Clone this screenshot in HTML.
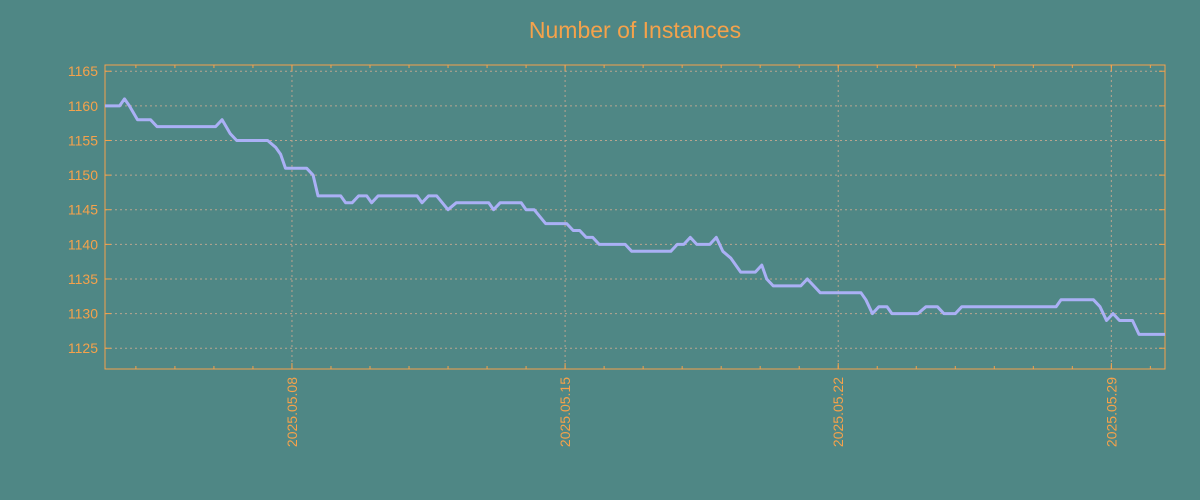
<!DOCTYPE html>
<html><head><meta charset="utf-8"><style>
body{margin:0;background:#4f8785;}
svg{display:block;font-family:"Liberation Sans","DejaVu Sans",sans-serif;}
</style></head><body>
<svg id="chart" width="1200" height="500" xmlns="http://www.w3.org/2000/svg">
<rect width="1200" height="500" fill="#4f8785"/>
<text x="635" y="38" text-anchor="middle" font-size="23" fill="#f5a24b">Number of Instances</text>
<g id="grid"></g>
<g id="axes"></g>
<g id="series"></g>
</svg>
<script>
// hours since 2025-05-03 ~04:54
const times=[0,9,12,15,20,28,32,68,72,77,81,100,105,108,111,124,128,131,145,148,152,156,161,164,168,192,195,199,204,211,216,236,239,243,256,259,264,271,284,288,292,296,300,304,320,324,348,352,356,360,364,372,376,380,385,391,400,404,407,411,428,432,436,440,465,468,472,476,481,484,500,505,512,516,523,527,585,588,608,612,616,620,624,632,636,652];
const values=[1160,1160,1161,1160,1158,1158,1157,1157,1158,1156,1155,1155,1154,1153,1151,1151,1150,1147,1147,1146,1146,1147,1147,1146,1147,1147,1146,1147,1147,1145,1146,1146,1145,1146,1146,1145,1145,1143,1143,1142,1142,1141,1141,1140,1140,1139,1139,1140,1140,1141,1140,1140,1141,1139,1138,1136,1136,1137,1135,1134,1134,1135,1134,1133,1133,1132,1130,1131,1131,1130,1130,1131,1131,1130,1130,1131,1131,1132,1132,1131,1129,1130,1129,1129,1127,1127];
const yTicks=[1125,1130,1135,1140,1145,1150,1155,1160,1165];
const xTickLabels=["2025.05.08","2025.05.15","2025.05.22","2025.05.29"];
const xTickHours=[115,283,451,619];
const X0=105,X1=1165,Y0=65,Y1=369,T0=0,T1=652,V0=1122,V1=1165.9;
const NS="http://www.w3.org/2000/svg";
function sx(t){return X0+(t-T0)/(T1-T0)*(X1-X0);}
function sy(v){return Y1-(v-V0)/(V1-V0)*(Y1-Y0);}
function mk(tag,attrs,parent){const e=document.createElementNS(NS,tag);for(const k in attrs)e.setAttribute(k,attrs[k]);parent.appendChild(e);return e;}
const grid=document.getElementById('grid'),axes=document.getElementById('axes'),series=document.getElementById('series');
const C="#f5a24b",G="#b8a590";
yTicks.forEach(v=>{const y=sy(v);
 const l=mk('line',{x1:X0,x2:X1,y1:y,y2:y,stroke:G,'stroke-dasharray':'2,3','stroke-width':1},grid);
 
 mk('line',{x1:X0,x2:X0+6,y1:y,y2:y,stroke:C},axes);
 mk('line',{x1:X1,x2:X1-6,y1:y,y2:y,stroke:C},axes);
 const t=mk('text',{x:X0-7,y:y+5,'text-anchor':'end','font-size':14,fill:C},axes);t.textContent=v;
 
});
// minor daily ticks
for(let h=115-24*4;h<=T1;h+=24){const x=sx(h);if(x<X0)continue;
 mk('line',{x1:x,x2:x,y1:Y0,y2:Y0+3,stroke:C},axes);mk('line',{x1:x,x2:x,y1:Y1,y2:Y1-3,stroke:C},axes);}
xTickHours.forEach((h,i)=>{const x=sx(h);
 const l=mk('line',{x1:x,x2:x,y1:Y0,y2:Y1,stroke:G,'stroke-dasharray':'2,3','stroke-width':1},grid);
 
 mk('line',{x1:x,x2:x,y1:Y0,y2:Y0+6,stroke:C},axes);mk('line',{x1:x,x2:x,y1:Y1,y2:Y1-6,stroke:C},axes);
 const t=mk('text',{x:0,y:0,'text-anchor':'end','font-size':14,fill:C,transform:`translate(${x+5},${Y1+8}) rotate(-90)`},axes);t.textContent=xTickLabels[i];
 
});
const fr=mk('rect',{x:X0,y:Y0,width:X1-X0,height:Y1-Y0,fill:'none',stroke:C,'stroke-width':1},axes);

const d=times.map((t,i)=>(i?'L':'M')+sx(t).toFixed(1)+','+sy(values[i]).toFixed(1)).join('');
const p=mk('path',{d:d,fill:'none',stroke:'#aab0f5','stroke-width':3,'stroke-linejoin':'round'},series);

</script>
</body></html>
